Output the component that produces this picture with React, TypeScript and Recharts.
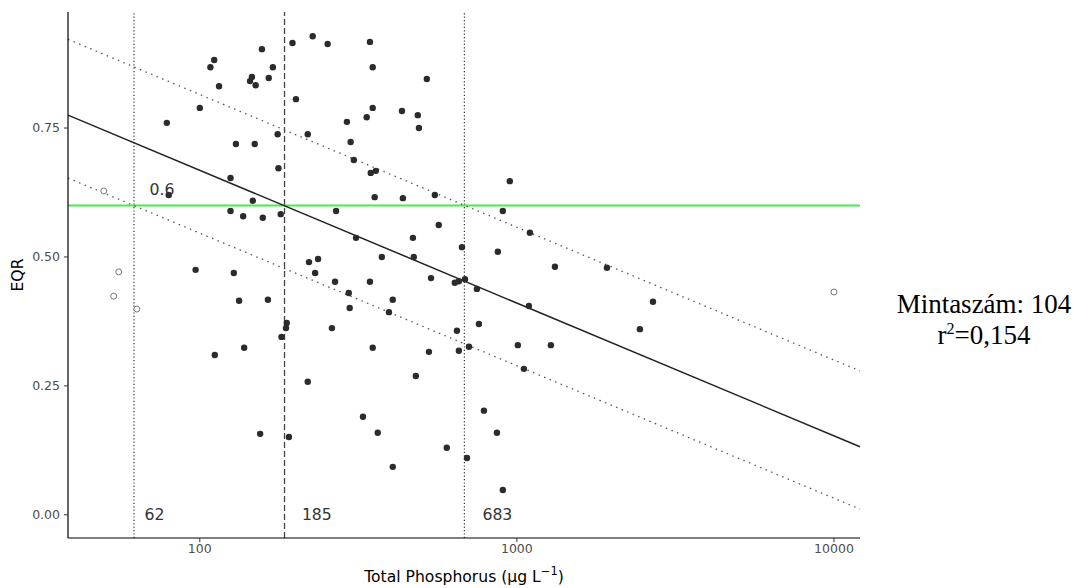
import { ScatterChart, Scatter, XAxis, YAxis, ReferenceLine } from 'recharts';

// Total phosphorus (µg/L) and EQR of the sampled sites
const tpFilled = [
  196, 157, 111, 108, 170, 165, 146, 144, 150, 115, 201, 100, 78.7, 176, 130, 149, 177, 125, 79.8, 147,
  125, 137, 158, 180, 97, 128, 227, 253, 344, 351, 520, 351, 336, 434, 487, 291, 491, 219, 299, 306,
  346, 359, 950, 551, 356, 437, 269, 903, 567, 1099, 311, 470, 671, 871, 221, 236, 375, 473, 231, 267,
  344, 536, 637, 656, 686, 748, 295, 164, 406, 1318, 1923, 2686, 133, 188, 187, 181, 138, 111.5, 155, 191,
  297, 395, 261, 759, 647, 1091, 1007, 706, 656, 528, 351, 1052, 480, 219, 787, 327, 364, 865, 601, 696,
  406, 903, 2443, 1280,
];
const eqrFilled = [
  0.915, 0.903, 0.882, 0.868, 0.868, 0.847, 0.849, 0.841, 0.833, 0.831, 0.806, 0.789, 0.76, 0.738, 0.719, 0.719, 0.672, 0.653, 0.62, 0.609,
  0.589, 0.579, 0.576, 0.583, 0.475, 0.469, 0.928, 0.913, 0.917, 0.868, 0.845, 0.789, 0.771, 0.783, 0.775, 0.762, 0.75, 0.738, 0.723, 0.688,
  0.663, 0.667, 0.647, 0.62, 0.616, 0.614, 0.589, 0.589, 0.562, 0.547, 0.537, 0.537, 0.519, 0.51, 0.49, 0.496, 0.5, 0.5, 0.469, 0.452,
  0.452, 0.459, 0.45, 0.453, 0.457, 0.438, 0.43, 0.417, 0.417, 0.481, 0.479, 0.413, 0.415, 0.372, 0.362, 0.345, 0.324, 0.31, 0.157, 0.151,
  0.401, 0.393, 0.362, 0.37, 0.357, 0.405, 0.329, 0.326, 0.318, 0.316, 0.324, 0.283, 0.269, 0.258, 0.202, 0.19, 0.159, 0.159, 0.13, 0.11,
  0.093, 0.048, 0.36, 0.329,
];

// excluded sites (open circles)
const tpOpen = [49.8, 55.5, 53.5, 63.3, 10000];
const eqrOpen = [0.628, 0.471, 0.424, 0.399, 0.432];

const xTicks = [100, 1000, 10000];
const yTicks = [0, 0.25, 0.5, 0.75];

const boundaries = [62, 185, 683];
const goodModerate = 0.6;

// fitted line and its two bounds, read at the left and right edge of the panel
const edgeX = [38.4, 12080];
const fitY = [0.775, 0.132];
const upperY = [0.922, 0.279];
const lowerY = [0.653, 0.011];

const noteX = [76, 72, 234, 868];
const noteY = [0.63, 0, 0, 0];
const noteText = ['0.6', '62', '185', '683'];

const filled = tpFilled.map((x, i) => ({ x, y: eqrFilled[i] }));
const open = tpOpen.map((x, i) => ({ x, y: eqrOpen[i] }));
const notes = noteX.map((x, i) => ({ x, y: noteY[i], text: noteText[i] }));
const seg = (ys: number[]) => [
  { x: edgeX[0], y: ys[0] },
  { x: edgeX[1], y: ys[1] },
];

const Dot = (p: any) => <circle cx={p.cx} cy={p.cy} r={3.2} fill="#2b2b2b" />;
const Ring = (p: any) => <circle cx={p.cx} cy={p.cy} r={3} fill="#fff" stroke="#777" strokeWidth={1} />;
const Note = (p: any) => (
  <text x={p.cx} y={p.cy} textAnchor="middle" dominantBaseline="central" fontSize={15.7} fill="#333">
    {p.payload?.text ?? p.text}
  </text>
);

const XTitle = (p: any) => {
  const vb = p.viewBox ?? { x: 68, y: 538, width: 792, height: 30 };
  return (
    <text x={vb.x + vb.width / 2} y={577} textAnchor="middle" dominantBaseline="central" fontSize={15.6} fill="#000">
      <tspan>Total Phosphorus (µg L</tspan>
      <tspan dy={-6} fontSize={11.5}>−1</tspan>
      <tspan dy={6}>)</tspan>
    </text>
  );
};

const YTitle = (p: any) => {
  const vb = p.viewBox ?? { x: 8, y: 12, width: 60, height: 526 };
  const cy = vb.y + vb.height / 2;
  return (
    <text x={18} y={cy} transform={`rotate(-90 18 ${cy})`} textAnchor="middle" dominantBaseline="central" fontSize={15.6} fill="#000">
      EQR
    </text>
  );
};

const tickStyle = { fill: '#4d4d4d', fontSize: 12.5 };

export default function App() {
  return (
    <div style={{ position: 'absolute', left: 0, top: 0, width: 1090, height: 588, background: '#fff' }}>
      <ScatterChart
        width={1090}
        height={588}
        margin={{ top: 12, right: 230, bottom: 20, left: 8 }}
        style={{ fontFamily: 'DejaVu Sans' }}
      >
        <XAxis
          dataKey="x"
          type="number"
          scale="log"
          domain={[38.4, 12080]}
          allowDataOverflow
          ticks={xTicks}
          tick={tickStyle}
          tickSize={4}
          tickMargin={2}
          height={30}
          axisLine={{ stroke: '#000', strokeWidth: 1.2 }}
          tickLine={{ stroke: '#333' }}
          label={<XTitle />}
        />
        <YAxis
          dataKey="y"
          type="number"
          domain={[-0.045, 0.975]}
          allowDataOverflow
          ticks={yTicks}
          tickFormatter={(v: number) => v.toFixed(2)}
          tick={tickStyle}
          tickSize={4}
          tickMargin={4}
          width={60}
          axisLine={{ stroke: '#000', strokeWidth: 1.2 }}
          tickLine={{ stroke: '#333' }}
          label={<YTitle />}
        />
        <ReferenceLine x={boundaries[0]} stroke="#333" strokeWidth={1.2} strokeDasharray="1.2 2.2" />
        <ReferenceLine x={boundaries[1]} stroke="#444" strokeWidth={1.3} strokeDasharray="6 3" />
        <ReferenceLine x={boundaries[2]} stroke="#333" strokeWidth={1.2} strokeDasharray="1.2 2.2" />
        <ReferenceLine y={goodModerate} stroke="#44ee44" strokeWidth={2} />
        <ReferenceLine segment={seg(upperY)} stroke="#555" strokeWidth={1.3} strokeDasharray="1.5 4.5" ifOverflow="visible" />
        <ReferenceLine segment={seg(lowerY)} stroke="#555" strokeWidth={1.3} strokeDasharray="1.5 4.5" ifOverflow="visible" />
        <ReferenceLine segment={seg(fitY)} stroke="#222" strokeWidth={1.5} ifOverflow="visible" />
        <Scatter data={open} shape={Ring} isAnimationActive={false} />
        <Scatter data={filled} shape={Dot} isAnimationActive={false} />
        <Scatter data={notes} shape={Note} isAnimationActive={false} />
      </ScatterChart>
      <div
        style={{
          position: 'absolute',
          left: 874,
          top: 289,
          width: 220,
          textAlign: 'center',
          fontFamily: '"Liberation Serif", serif',
          fontSize: 27,
          lineHeight: '31px',
          color: '#000',
        }}
      >
        <div>Mintaszám: 104</div>
        <div>
          r<span style={{ fontSize: 16, verticalAlign: 'super', lineHeight: 0 }}>2</span>=0,154
        </div>
      </div>
    </div>
  );
}
